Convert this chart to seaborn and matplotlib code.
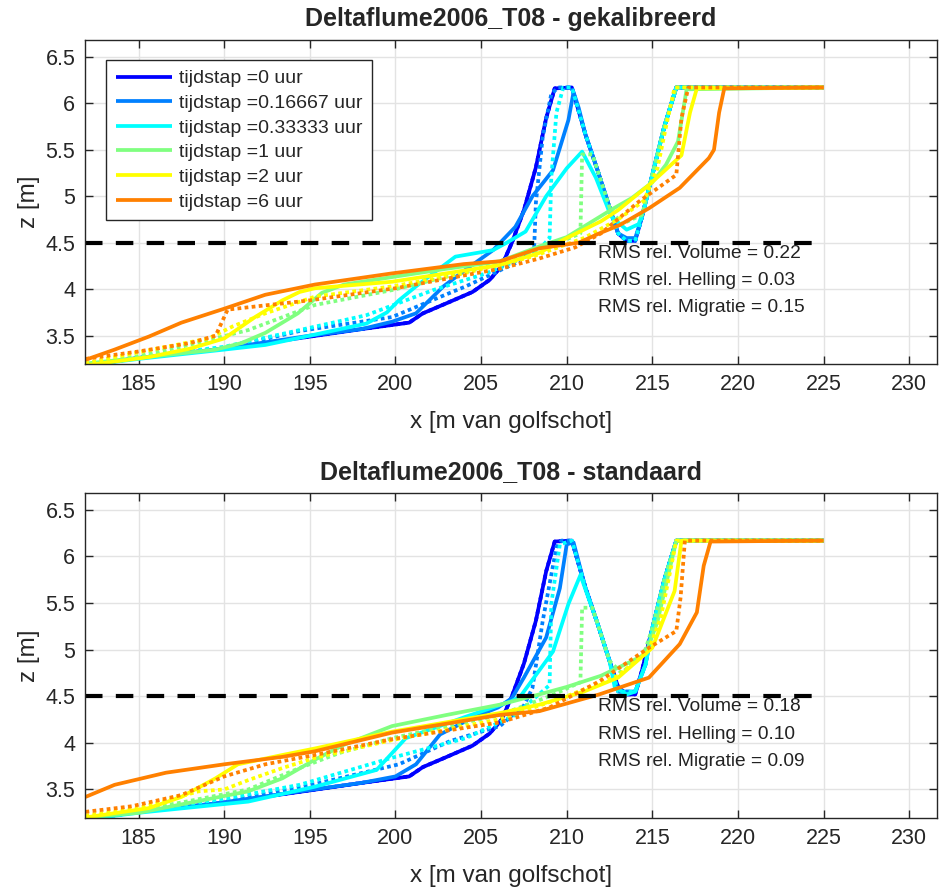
import matplotlib
matplotlib.use("Agg")
import matplotlib.pyplot as plt
import seaborn as sns
import pandas as pd

# ---------------- data ----------------
time_labels = ["0", "0.16667", "0.33333", "1", "2", "6"]
time_colors = ["#0000ff", "#0080ff", "#00ffff", "#80ff80", "#ffff00", "#ff8000"]
panel_titles = ["Deltaflume2006_T08 - gekalibreerd", "Deltaflume2006_T08 - standaard"]
rms_volume = [0.22, 0.18]
rms_helling = [0.03, 0.10]
rms_migratie = [0.15, 0.09]
ref_level = 4.5
ref_x = [181.9, 225.0]

# initial profile (t = 0), identical in both panels
x_t0 = [181.9, 185, 190, 195, 198, 200, 200.8, 201.6, 203, 204.5, 205.5, 206.2, 206.8, 207.5, 208.2,
        208.8, 209.3, 210.3, 211.1, 211.8, 212.5, 213.0, 213.5, 214.0, 214.4, 215.0, 215.7, 216.4, 225]
z_t0 = [3.18, 3.26, 3.36, 3.49, 3.57, 3.62, 3.64, 3.74, 3.85, 3.97, 4.10, 4.25, 4.50, 4.85, 5.31,
        5.84, 6.16, 6.17, 5.66, 5.28, 4.88, 4.60, 4.52, 4.52, 4.78, 5.23, 5.75, 6.17, 6.17]

# ---- panel 1 (gekalibreerd), solid lines ----
cal_sx_1 = [181.9, 185, 190, 195, 198, 199.8, 201.2, 202.8, 204.1, 205.7, 207.0, 208.0, 209.2, 210.1, 210.4,
            210.7, 211.1, 211.8, 212.5, 213.0, 213.5, 214.0, 214.4, 215.0, 215.7, 216.4, 225]
cal_sz_1 = [3.18, 3.26, 3.36, 3.50, 3.57, 3.65, 3.74, 4.03, 4.21, 4.42, 4.67, 5.00, 5.28, 5.82, 6.12,
            5.95, 5.66, 5.28, 4.88, 4.60, 4.55, 4.55, 4.78, 5.23, 5.75, 6.17, 6.17]
cal_sx_2 = [181.9, 185, 190, 192.4, 195, 198.3, 199.5, 200.2, 201.2, 202.2, 203.5, 205.7, 206.5, 207.6, 208.8,
            210.0, 210.9, 211.7, 212.6, 213.5, 214.2, 214.5, 215.0, 215.7, 216.4, 225]
cal_sz_2 = [3.18, 3.25, 3.35, 3.40, 3.50, 3.63, 3.75, 3.88, 4.03, 4.17, 4.35, 4.42, 4.50, 4.62, 5.00,
            5.30, 5.48, 5.20, 4.78, 4.64, 4.70, 4.85, 5.23, 5.75, 6.17, 6.17]
cal_sx_3 = [181.9, 185, 189.5, 191, 192.4, 194.3, 195.7, 197, 199.8, 203, 206.1, 208.4, 210, 212.65,
            213.8, 215.0, 215.8, 216.5, 217.0, 225]
cal_sz_3 = [3.20, 3.26, 3.35, 3.42, 3.53, 3.74, 3.96, 4.05, 4.13, 4.22, 4.30, 4.46, 4.56, 4.86,
            4.98, 5.15, 5.34, 5.59, 6.15, 6.17]
cal_sx_4 = [181.9, 185.6, 188, 190, 191.8, 193.4, 194.4, 195.3, 199.8, 206.1, 208.4, 210, 212, 213, 214.8,
            216.7, 217.2, 217.6, 225]
cal_sz_4 = [3.18, 3.27, 3.36, 3.47, 3.70, 3.88, 3.97, 4.01, 4.08, 4.26, 4.39, 4.55, 4.73, 4.85, 5.12,
            5.44, 5.90, 6.16, 6.17]
cal_sx_5 = [181.9, 183.6, 185.6, 187.5, 190.0, 192.4, 195.3, 199.8, 204, 206.1, 208.4, 210.7, 211.9, 213.1,
            214.8, 216.6, 218.3, 218.6, 218.9, 219.2, 225]
cal_sz_5 = [3.24, 3.35, 3.49, 3.64, 3.79, 3.94, 4.05, 4.17, 4.27, 4.30, 4.44, 4.50, 4.60, 4.69,
            4.87, 5.09, 5.41, 5.50, 5.90, 6.16, 6.17]

# ---- panel 1 (gekalibreerd), dotted lines ----
cal_dx_1 = [181.9, 185, 190, 194.4, 199.8, 202, 204.1, 207, 208.1, 208.2, 208.6, 209.1, 209.5, 210.3,
            211.1, 211.8, 212.5, 213.0, 213.5, 214.0, 214.4, 215.0, 215.7, 216.4, 225]
cal_dz_1 = [3.18, 3.26, 3.36, 3.55, 3.70, 3.87, 4.03, 4.28, 4.45, 4.93, 5.64, 6.10, 6.17, 6.17,
            5.66, 5.28, 4.88, 4.60, 4.52, 4.52, 4.78, 5.23, 5.75, 6.17, 6.17]
cal_dx_2 = [181.9, 185, 190, 194.4, 198.3, 202.2, 205.3, 207, 208.5, 209.0, 209.1, 209.4, 209.8, 210.3,
            211.1, 211.8, 212.5, 213.0, 213.5, 214.0, 214.4, 215.0, 215.7, 216.4, 225]
cal_dz_2 = [3.18, 3.27, 3.38, 3.56, 3.72, 3.99, 4.17, 4.30, 4.45, 4.55, 5.20, 5.90, 6.17, 6.17,
            5.66, 5.28, 4.88, 4.60, 4.52, 4.52, 4.78, 5.23, 5.75, 6.17, 6.17]
cal_dx_3 = [181.9, 185, 187.5, 191.4, 195.3, 199.8, 204, 208, 210.8, 210.9, 211.5, 212.5, 213.2, 214.4,
            215.0, 215.7, 216.4, 225]
cal_dz_3 = [3.20, 3.28, 3.38, 3.56, 3.83, 3.99, 4.18, 4.38, 4.60, 5.45, 5.45, 4.88, 4.70, 4.80,
            5.23, 5.75, 6.17, 6.17]
cal_dx_4 = [181.9, 183.6, 189.1, 190.5, 192.4, 195.3, 199.8, 204, 208, 211, 213, 214.5, 215.3, 215.8, 216.3, 225]
cal_dz_4 = [3.20, 3.27, 3.47, 3.60, 3.74, 3.92, 4.03, 4.17, 4.35, 4.55, 4.75, 4.95, 5.30, 5.75, 6.17, 6.17]
cal_dx_5 = [181.9, 185, 188, 189.5, 190.2, 195, 200, 206.1, 208.4, 210.5, 212, 214.2, 216.4, 216.7, 217.1, 225]
cal_dz_5 = [3.25, 3.33, 3.42, 3.50, 3.78, 3.88, 4.01, 4.22, 4.33, 4.45, 4.60, 4.94, 5.23, 5.84, 6.17, 6.17]

# ---- panel 2 (standaard), solid lines ----
std_sx_1 = [181.9, 185, 190, 194.4, 198, 200, 201.2, 202.6, 204.5, 206.0, 206.8, 207.5, 208.8, 209.6, 210.0,
            210.4, 211.1, 211.8, 212.5, 213.0, 214.0, 214.6, 215.0, 215.7, 216.4, 225]
std_sz_1 = [3.18, 3.26, 3.36, 3.48, 3.57, 3.64, 3.77, 4.09, 4.27, 4.38, 4.48, 4.70, 5.13, 5.66, 6.13,
            6.15, 5.66, 5.28, 4.88, 4.55, 4.55, 4.84, 5.23, 5.75, 6.17, 6.17]
std_sx_2 = [181.9, 185, 191.4, 195.3, 198.9, 200.6, 204.1, 206.8, 207.3, 209.2, 210.1, 210.8, 211.8, 212.5,
            212.8, 213.5, 214.0, 214.6, 215.0, 215.7, 216.4, 225]
std_sz_2 = [3.18, 3.25, 3.37, 3.53, 3.71, 4.05, 4.28, 4.45, 4.50, 4.98, 5.49, 5.80, 5.28, 4.88,
            4.60, 4.52, 4.55, 4.84, 5.23, 5.75, 6.17, 6.17]
std_sx_3 = [181.9, 185, 187.5, 191.4, 193.4, 195.3, 197, 199.8, 203, 206.1, 208.4, 210, 212, 213.5,
            214.6, 215.3, 215.8, 216.4, 225]
std_sz_3 = [3.20, 3.25, 3.34, 3.48, 3.62, 3.82, 3.98, 4.18, 4.30, 4.41, 4.52, 4.60, 4.72, 4.85,
            4.95, 5.30, 5.70, 6.17, 6.17]
std_sx_4 = [181.9, 185.6, 187.5, 189.5, 190.8, 193.4, 195.3, 199.8, 206.1, 208.4, 211, 213, 215, 216.3, 216.7, 225]
std_sz_4 = [3.20, 3.30, 3.42, 3.62, 3.77, 3.87, 3.94, 4.12, 4.32, 4.41, 4.55, 4.70, 5.02, 5.63, 6.17, 6.17]
std_sx_5 = [181.9, 183.6, 186.6, 190, 193.4, 195.3, 199.8, 206.1, 208.4, 211.9, 214.8, 216.6, 217.6, 218.0,
            218.4, 225]
std_sz_5 = [3.42, 3.55, 3.68, 3.77, 3.85, 3.91, 4.11, 4.30, 4.34, 4.52, 4.70, 5.06, 5.40, 5.90,
            6.16, 6.17]

# ---- panel 2 (standaard), dotted lines ----
std_dx_1 = [181.9, 185, 190, 194.4, 200.2, 203.2, 206.1, 207.5, 208.0, 208.6, 209.4, 209.7, 210.3,
            211.1, 211.8, 212.5, 213.0, 214.0, 214.6, 215.0, 215.7, 216.4, 225]
std_dz_1 = [3.18, 3.26, 3.37, 3.52, 3.77, 4.02, 4.18, 4.40, 4.59, 5.31, 6.10, 6.17, 6.17,
            5.66, 5.28, 4.88, 4.55, 4.55, 4.84, 5.23, 5.75, 6.17, 6.17]
std_dx_2 = [181.9, 185, 190, 194.4, 199.8, 204.1, 207, 209.0, 209.1, 209.6, 210.3,
            211.1, 211.8, 212.5, 213.0, 214.0, 214.6, 215.0, 215.7, 216.4, 225]
std_dz_2 = [3.18, 3.27, 3.40, 3.55, 3.84, 4.05, 4.30, 4.62, 5.49, 6.13, 6.17,
            5.66, 5.28, 4.88, 4.55, 4.55, 4.84, 5.23, 5.75, 6.17, 6.17]
std_dx_3 = [181.9, 185, 187.5, 191.4, 194.4, 196.7, 199.8, 206.1, 209, 210.8, 210.9, 211.5, 212.5, 213.2,
            214.5, 215.0, 215.7, 216.4, 225]
std_dz_3 = [3.20, 3.28, 3.36, 3.50, 3.73, 3.89, 4.05, 4.30, 4.50, 4.65, 5.45, 5.45, 4.88, 4.75,
            4.95, 5.23, 5.75, 6.17, 6.17]
std_dx_4 = [181.9, 185, 188.5, 190, 191.4, 193.4, 195.3, 199.8, 206, 210, 213, 214.8, 215.5, 216.0, 216.4, 225]
std_dz_4 = [3.22, 3.30, 3.48, 3.50, 3.60, 3.73, 3.84, 4.03, 4.25, 4.50, 4.72, 5.00, 5.35, 5.80, 6.17, 6.17]
std_dx_5 = [181.9, 184.6, 187.5, 190, 192.4, 195.3, 199.8, 206.1, 209, 211.9, 214.8, 216.4, 216.65, 216.9, 225]
std_dz_5 = [3.26, 3.32, 3.44, 3.64, 3.77, 3.87, 4.04, 4.22, 4.38, 4.66, 5.02, 5.20, 5.56, 6.17, 6.17]

solid_sets = [
    [(x_t0, z_t0), (cal_sx_1, cal_sz_1), (cal_sx_2, cal_sz_2), (cal_sx_3, cal_sz_3), (cal_sx_4, cal_sz_4), (cal_sx_5, cal_sz_5)],
    [(x_t0, z_t0), (std_sx_1, std_sz_1), (std_sx_2, std_sz_2), (std_sx_3, std_sz_3), (std_sx_4, std_sz_4), (std_sx_5, std_sz_5)],
]
dotted_sets = [
    [(x_t0, z_t0), (cal_dx_1, cal_dz_1), (cal_dx_2, cal_dz_2), (cal_dx_3, cal_dz_3), (cal_dx_4, cal_dz_4), (cal_dx_5, cal_dz_5)],
    [(x_t0, z_t0), (std_dx_1, std_dz_1), (std_dx_2, std_dz_2), (std_dx_3, std_dz_3), (std_dx_4, std_dz_4), (std_dx_5, std_dz_5)],
]

# ---------------- style ----------------
sns.set_style("ticks")
plt.rcParams["font.family"] = ["Liberation Sans", "DejaVu Sans"]
plt.rcParams["axes.edgecolor"] = "#262626"
plt.rcParams["xtick.color"] = "#262626"
plt.rcParams["ytick.color"] = "#262626"

fig = plt.figure(figsize=(9.4, 8.9), dpi=100)
ax_pos = [[0.0904, 0.591, 0.906, 0.364], [0.0904, 0.081, 0.906, 0.365]]

for p in range(2):
    ax = fig.add_axes(ax_pos[p])
    ax.grid(True, color="#e3e3e3", linewidth=1.0)
    ax.set_axisbelow(True)
    for i in range(6):
        sx, sz = solid_sets[p][i]
        dx, dz = dotted_sets[p][i]
        df_s = pd.DataFrame({"x": sx, "z": sz})
        df_d = pd.DataFrame({"x": dx, "z": dz})
        sns.lineplot(data=df_s, x="x", y="z", sort=False, estimator=None, ax=ax,
                     color=time_colors[i], linewidth=2.7, solid_capstyle="butt",
                     label="tijdstap =" + time_labels[i] + " uur")
        sns.lineplot(data=df_d, x="x", y="z", sort=False, estimator=None, ax=ax,
                     color=time_colors[i], linewidth=2.7, linestyle=(0, (1, 0.9)),
                     dash_capstyle="butt", label="_nolegend_")
    df_ref = pd.DataFrame({"x": ref_x, "z": [ref_level, ref_level]})
    sns.lineplot(data=df_ref, x="x", y="z", sort=False, estimator=None, ax=ax,
                 color="black", linewidth=3.0, linestyle=(0, (4.2, 3.2)), label="_nolegend_")

    ax.set_xlim(181.87, 231.6)
    ax.set_ylim(3.195, 6.68)
    ax.set_xticks([185, 190, 195, 200, 205, 210, 215, 220, 225, 230])
    ax.set_yticks([3.5, 4, 4.5, 5, 5.5, 6, 6.5])
    ax.set_yticklabels(["3.5", "4", "4.5", "5", "5.5", "6", "6.5"])
    ax.tick_params(direction="in", length=6, width=1, top=True, right=True, labelsize=15.5, pad=7)
    for s in ax.spines.values():
        s.set_linewidth(1.0)
        s.set_color("#262626")
    ax.set_xlabel("x [m van golfschot]", fontsize=17.5, color="#262626", labelpad=12)
    ax.set_ylabel("z [m]", fontsize=17.5, color="#262626", labelpad=4)
    ax.set_title(panel_titles[p], fontsize=18, fontweight="bold", pad=10)

    ax.text(211.82, 4.385, "RMS rel. Volume = %.2f" % rms_volume[p], fontsize=13.8, va="center", color="#222222")
    ax.text(211.82, 4.09, "RMS rel. Helling = %.2f" % rms_helling[p], fontsize=13.8, va="center", color="#222222")
    ax.text(211.82, 3.80, "RMS rel. Migratie = %.2f" % rms_migratie[p], fontsize=13.8, va="center", color="#222222")

    if p == 0:
        leg = ax.legend(loc="upper left", bbox_to_anchor=(0.0246, 0.938), fontsize=14, frameon=True,
                        fancybox=False, edgecolor="#262626", handlelength=2.9, borderpad=0.5,
                        labelspacing=0.36, handletextpad=0.35, borderaxespad=0.0)
        leg.get_frame().set_linewidth(1.0)
        leg.get_frame().set_alpha(1.0)
    else:
        lg = ax.get_legend()
        if lg is not None:
            lg.remove()

fig.savefig("out.png", dpi=100)
